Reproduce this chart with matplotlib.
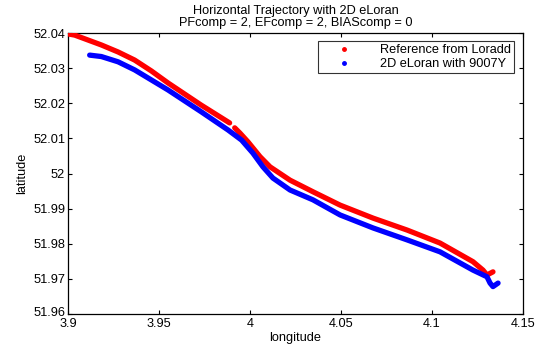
import numpy as np
import matplotlib
matplotlib.use("Agg")
import matplotlib.pyplot as plt
from matplotlib.lines import Line2D
from matplotlib.transforms import ScaledTranslation

plt.rcParams['font.family'] = ['Liberation Sans', 'DejaVu Sans']

# Reference trajectory (red); NaN marks the small gap in the track
ref_lon = [3.9005, 3.9037, 3.9183, 3.9275, 3.9366, 3.9458, 3.9549, 3.9731, 3.9888, np.nan,
           3.9916, 3.9945, 3.9989, 4.0055, 4.0110, 4.0220, 4.0346, 4.0495, 4.0676,
           4.0863, 4.1044, 4.1225, 4.1280, 4.1302, 4.1335]
ref_lat = [52.0397, 52.0394, 52.0366, 52.0346, 52.0323, 52.0292, 52.0258, 52.0195, 52.0144, np.nan,
           52.0130, 52.0115, 52.0090, 52.0048, 52.0019, 51.9981, 51.9948, 51.9910, 51.9873,
           51.9839, 51.9802, 51.9749, 51.9725, 51.9711, 51.9720]

# 2D eLoran with 9007Y (blue)
elo_lon = [3.9119, 3.9183, 3.9275, 3.9366, 3.9549, 3.9731, 3.9879, 3.9954, 4.0016,
           4.0071, 4.0126, 4.0220, 4.0346, 4.0495, 4.0676, 4.0863, 4.1044, 4.1225,
           4.1302, 4.1319, 4.1335, 4.1363]
elo_lat = [52.0337, 52.0333, 52.0318, 52.0295, 52.0238, 52.0176, 52.0124, 52.0095, 52.0058,
           52.0019, 51.9987, 51.9953, 51.9925, 51.9882, 51.9845, 51.9811, 51.9777, 51.9725,
           51.9706, 51.9688, 51.9678, 51.9688]

xticks = [3.9, 3.95, 4.0, 4.05, 4.1, 4.15]
xticklabels = ['3.9', '3.95', '4', '4.05', '4.1', '4.15']
yticks = [51.96, 51.97, 51.98, 51.99, 52.0, 52.01, 52.02, 52.03, 52.04]
yticklabels = ['51.96', '51.97', '51.98', '51.99', '52', '52.01', '52.02', '52.03', '52.04']

fs = 9.2

fig = plt.figure(figsize=(5.36, 3.51), dpi=100)
ax = fig.add_axes([68/536, 1-314/351, (523-68)/536, (314-33)/351])

lw = 3.8
ax.plot(ref_lon, ref_lat, color='#ff0000', lw=lw, solid_capstyle='round',
        solid_joinstyle='round', zorder=3)
ax.plot(elo_lon, elo_lat, color='#0000ff', lw=lw, solid_capstyle='round',
        solid_joinstyle='round', zorder=3)

ax.set_xlim(3.9, 4.15)
ax.set_ylim(51.96, 52.04)
ax.set_xticks(xticks)
ax.set_xticklabels(xticklabels)
ax.set_yticks(yticks)
ax.set_yticklabels(yticklabels)
ax.tick_params(direction='in', length=3, width=0.8, top=True, right=True,
               labelsize=fs, pad=2, colors='black')
ax.tick_params(axis='x', pad=3)
for s in ax.spines.values():
    s.set_linewidth(0.9)

# nudge the lowest y tick label up slightly so it does not touch "3.9"
lab0 = ax.get_yticklabels()[0]
lab0.set_transform(lab0.get_transform() + ScaledTranslation(0, 3/100, fig.dpi_scale_trans))

ax.set_xlabel('longitude', fontsize=fs, labelpad=1)
ax.set_ylabel('latitude', fontsize=fs, labelpad=4)
ax.set_title('Horizontal Trajectory with 2D eLoran\nPFcomp = 2, EFcomp = 2, BIAScomp = 0',
             fontsize=fs, linespacing=1.0, pad=5)

handles = [Line2D([], [], color='#ff0000', marker='.', ls='none', markersize=5),
           Line2D([], [], color='#0000ff', marker='.', ls='none', markersize=5)]
leg = ax.legend(handles, ['Reference from Loradd', '2D eLoran with 9007Y'],
                loc='upper right', bbox_to_anchor=(1 - 9/455, 1 - 8/281),
                borderaxespad=0, fontsize=fs, frameon=True, fancybox=False,
                edgecolor='black', handlelength=3.6, handletextpad=1.0,
                borderpad=0.25, labelspacing=0.15)
leg.get_frame().set_linewidth(0.8)

fig.savefig('out.png', dpi=100)
